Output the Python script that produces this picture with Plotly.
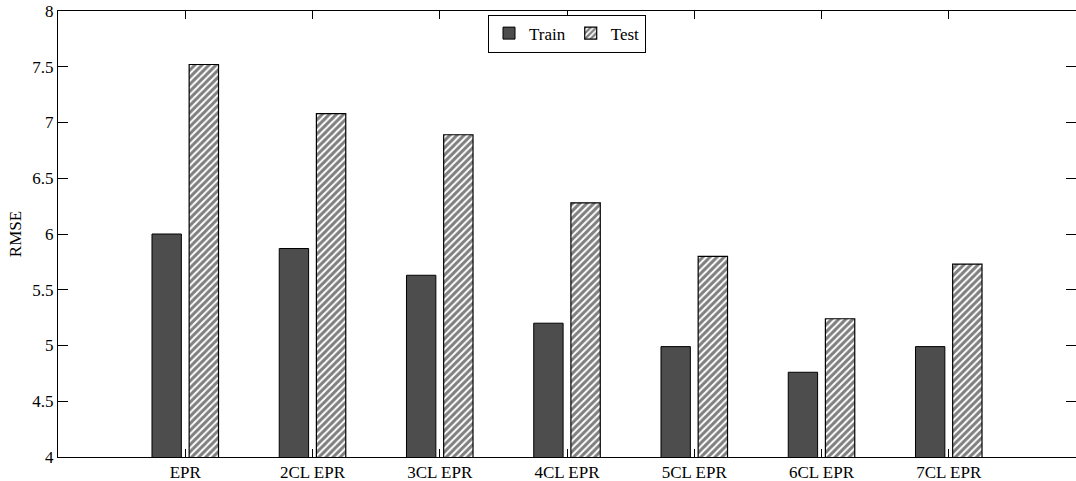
import plotly.graph_objects as go

categories = ["EPR", "2CL EPR", "3CL EPR", "4CL EPR", "5CL EPR", "6CL EPR", "7CL EPR"]
train = [6.00, 5.87, 5.63, 5.20, 4.99, 4.76, 4.99]
test = [7.52, 7.08, 6.89, 6.28, 5.80, 5.24, 5.73]
y_ticks = [4, 4.5, 5, 5.5, 6, 6.5, 7, 7.5, 8]
y_ticktext = ["4", "4.5", "5", "5.5", "6", "6.5", "7", "7.5", "8"]

serif = "Liberation Serif, Times New Roman, serif"
font = dict(family=serif, size=17, color="black")

fig = go.Figure()
fig.add_trace(go.Bar(
    x=categories, y=train, name="Train",
    marker=dict(color="#4d4d4d", line=dict(color="black", width=1)),
))
fig.add_trace(go.Bar(
    x=categories, y=test, name="Test",
    marker=dict(color="white", line=dict(color="black", width=1.2),
                pattern=dict(shape="/", fgcolor="black", bgcolor="white", size=5, solidity=0.6)),
))

fig.update_layout(
    width=1076, height=481,
    margin=dict(l=58, r=0, t=11, b=24, autoexpand=False),
    paper_bgcolor="white", plot_bgcolor="white",
    font=font,
    barmode="group", bargap=0.416, bargroupgap=0.21,
    showlegend=True,
    legend=dict(orientation="h", x=0.5, xanchor="center", y=0.992, yanchor="top",
                bgcolor="white", bordercolor="black", borderwidth=1,
                font=dict(family=serif, size=17, color="black"),
                itemwidth=30, tracegroupgap=0, entrywidth=0),
)
fig.update_xaxes(
    type="category", range=[-1, 7], automargin=False,
    showline=True, linecolor="black", linewidth=1, mirror="ticks",
    ticks="inside", ticklen=8, tickcolor="black",
    showgrid=False, zeroline=False,
    tickfont=dict(family=serif, size=17, color="black"),
)
fig.update_yaxes(
    range=[4, 8], tickvals=y_ticks, ticktext=y_ticktext, automargin=False,
    showline=True, linecolor="black", linewidth=1, mirror="ticks",
    ticks="inside", ticklen=10, tickcolor="black",
    showgrid=False, zeroline=False,
    tickfont=dict(family=serif, size=17, color="black"),
    title=dict(text="RMSE", standoff=6, font=dict(family=serif, size=17, color="black")),
)

fig.write_html("out.html", config={"displayModeBar": False},
               post_script="document.body.style.margin='0';document.body.style.overflow='hidden';")
